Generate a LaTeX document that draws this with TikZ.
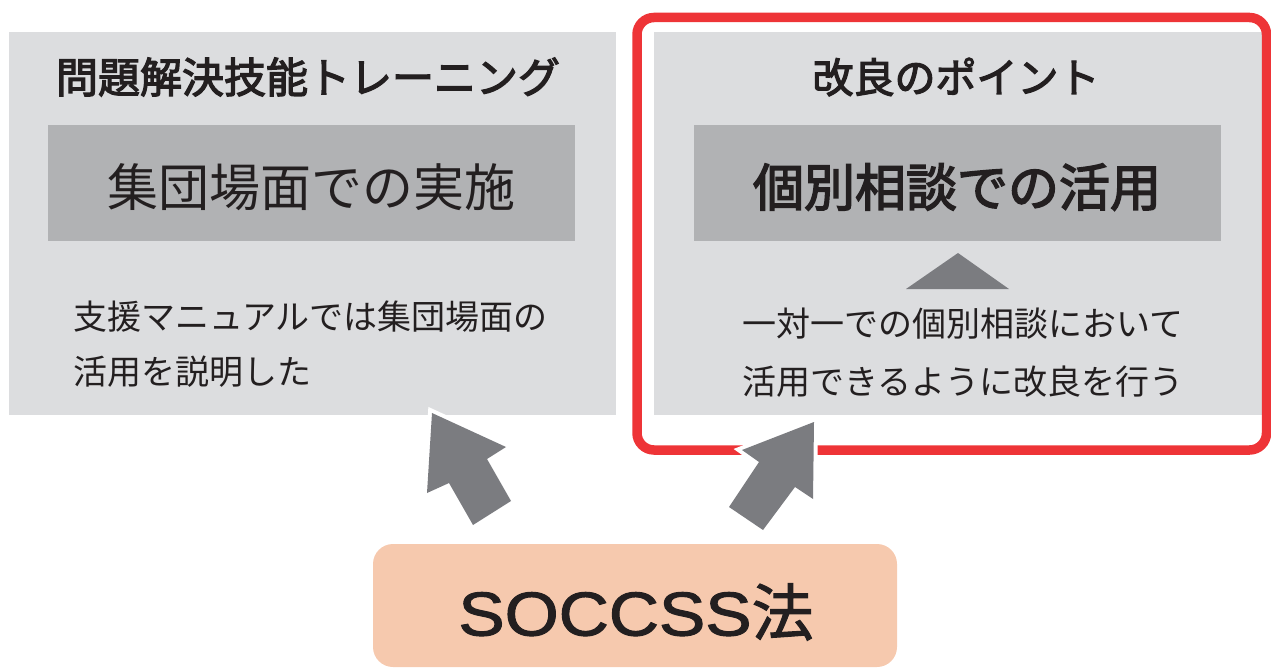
\documentclass[tikz,border=0pt]{standalone}
\usepackage{fontspec}
\usepackage{graphicx}
\setmainfont{Noto Sans CJK JP}
\newfontfamily\jpmed[FakeBold=3]{Noto Sans CJK JP}
\newfontfamily\jpsemi[FakeBold=1.6]{Noto Sans CJK JP}
\newfontfamily\latinfont[FakeBold=1.6]{Liberation Sans}
\definecolor{panelgray}{HTML}{DCDDDF}
\definecolor{bandgray}{HTML}{B1B2B4}
\definecolor{arrowgray}{HTML}{7B7C80}
\definecolor{framered}{HTML}{EE3437}
\definecolor{peach}{HTML}{F6C9AE}
\definecolor{ink}{HTML}{231F20}
\tikzset{
  panel/.style={rectangle, fill=panelgray, inner sep=0pt, outer sep=0pt},
  band/.style={rectangle, fill=bandgray, inner sep=0pt, outer sep=0pt, minimum width=527pt, minimum height=116pt},
  txt/.style={inner sep=0pt, outer sep=0pt, text=ink},
  blockarrow/.style={fill=arrowgray, preaction={fill=white, draw=white, line width=8pt, line join=miter}}
}
\begin{document}
\begin{tikzpicture}[x=1pt,y=-1pt]
\useasboundingbox (0,0) rectangle (1271,668);
% panels
\node[panel, minimum width=607pt, minimum height=383pt] (leftpanel) at (312.5,223.5) {};
\node[panel, minimum width=608pt, minimum height=383pt] (rightpanel) at (958,223.5) {};
\node[band] (leftband) at (311.5,183) {};
\node[band] (rightband) at (957.5,183) {};
% red frame
\draw[framered, line width=9.5pt, rounded corners=17pt] (637,17.5) rectangle (1266.5,450);
% titles
\node[txt, font=\fontsize{42}{48}\selectfont\jpmed] (lefttitle) at (308,77) {問題解決技能トレーニング};
\node[txt, font=\fontsize{41}{48}\selectfont\jpmed] (righttitle) at (956,77) {改良のポイント};
% band texts
\node[txt, font=\fontsize{51}{58}\selectfont] (leftbandtext) at (311,187) {集団場面での実施};
\node[txt, font=\fontsize{51}{58}\selectfont\jpmed] (rightbandtext) at (957,187) {個別相談での活用};
% body texts
\node[txt, anchor=base west, font=\fontsize{34}{40}\selectfont] (leftbody1) at (73,329) {支援マニュアルでは集団場面の};
\node[txt, anchor=base west, font=\fontsize{34}{40}\selectfont] (leftbody2) at (73,384) {活用を説明した};
\node[txt, anchor=base west, font=\fontsize{34}{40}\selectfont] (rightbody1) at (742,336) {一対一での個別相談において};
\node[txt, anchor=base west, font=\fontsize{34}{40}\selectfont] (rightbody2) at (742,394) {活用できるように改良を行う};
% small triangle
\fill[arrowgray] (958,253) -- (1009,289) -- (906,289) -- cycle;
% SOCCSS box
\node[rectangle, rounded corners=20pt, fill=peach, minimum width=524pt, minimum height=123pt, inner sep=0pt, outer sep=0pt] (soccss) at (635,605.5) {};
\node[txt] (soccsstext) at (636,612) {\scalebox{1.12}[1]{\fontsize{62}{70}\selectfont\latinfont SOCCSS}{\fontsize{62}{70}\selectfont\jpsemi 法}};
% block arrows
\path[blockarrow] (432,413) -- (506,447) -- (487,459) -- (511,501) -- (473,525) -- (449,483) -- (427,493) -- cycle;
\path[blockarrow] (814,422) -- (813,499) -- (795,487) -- (763,530) -- (729,507) -- (759,462) -- (742,450) -- cycle;
\end{tikzpicture}
\end{document}
